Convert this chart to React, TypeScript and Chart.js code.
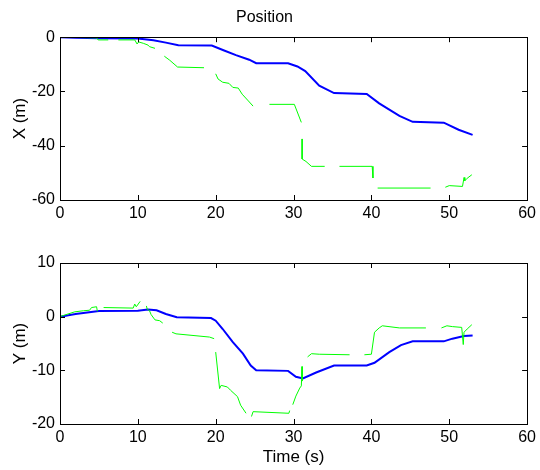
import { useEffect, useRef } from "react";
import { Chart, registerables } from "chart.js";

Chart.register(...registerables);

// ---- Data ----
const timeTicks = [0, 10, 20, 30, 40, 50, 60];
const xTicks = [-60, -40, -20, 0];
const yTicks = [-20, -10, 0, 10];

// Blue (X, top)
const blueXTime = [0, 2, 5, 10, 12, 13.6, 15.2, 19.5, 21, 22.6, 24.3, 25.2, 29.3, 30.5, 31.5, 33.3, 35.2, 39.4, 41, 43.6, 45.3, 49.3, 51.2, 53];
const blueXValue = [0, -0.2, -0.4, -0.5, -1.1, -2, -3, -3.1, -4.8, -6.6, -8.3, -9.6, -9.6, -10.8, -12.5, -17.9, -20.6, -20.9, -24.4, -29, -31.2, -31.5, -34.1, -36];

// Green (X, top) — null marks a gap
const greenXTime = [0, 2, 4.7, 4.9, 6.2, 6.8, 7.5, 9.6, 9.9, 10.1, 10.7, 11.3, 11.5, 12.2, 12.8, 13.4, 14.1, 15.1, 18.5, 19.2, 20.0, 20.3, 20.9, 21.7, 22.2, 22.9, 23.4, 24.2, 24.8, 25.8, 26.9, 30.1, 31.0, 31.05, 31.1, 31.1, 31.6, 32.3, 34, 35, 35.9, 40.1, 40.2, 40.5, 40.8, 47.6, 48.5, 49.5, 50, 51.7, 51.9, 52.0, 52.3, 52.9];
const greenXValue = [0, -0.1, -0.25, -1, -1, null, -1, -1, -2.5, -1.75, -2.25, -2.9, -3.5, -4.1, null, -7, -8.5, -11, -11.25, null, -13.5, -15.4, -16.6, -17, -18.5, -18.75, -21, -23.5, -25.4, null, -24.75, -24.75, -31.4, null, -37.5, -44.9, -45.8, -47.6, -47.6, null, -47.6, -47.6, -51.9, null, -55.6, -55.6, null, -55.3, -54.7, -55, -51.7, -52.9, -52, -50.7];

// Blue (Y, bottom)
const blueYTime = [0, 2, 5, 10, 11.3, 12.4, 13.6, 15, 19.4, 20, 20.9, 22.2, 23.5, 24.5, 25.2, 29.3, 30.3, 31.2, 32.9, 35.2, 39.4, 40.4, 42.3, 43.8, 45.3, 49.3, 50.4, 51.9, 53];
const blueYValue = [0, 0.5, 1.05, 1.1, 1.35, 1.2, 0.5, -0.1, -0.25, -0.75, -2.3, -4.75, -6.9, -9.1, -10, -10.1, -11.2, -11.5, -10.4, -9.1, -9.1, -8.6, -6.6, -5.3, -4.6, -4.6, -4.1, -3.6, -3.5];

// Green (Y, bottom) — null marks a gap
const greenYTime = [0, 0.6, 1.9, 3, 3.8, 4.05, 4.7, 4.8, 5.2, 5.6, 9.4, 9.6, 9.8, 10.3, 10.7, 11.1, 11.2, 11.5, 11.7, 12.2, 12.8, 13.2, 13.8, 14.4, 14.9, 19.2, 19.8, 19.9, 20.0, 20.5, 20.7, 21.5, 21.9, 22.8, 23.2, 23.9, 24.2, 24.6, 24.8, 29.4, 29.5, 29.7, 29.9, 30.3, 30.8, 31.0, 31.1, 31.1, 31.5, 31.8, 32.3, 33.3, 37.2, 38.2, 39.1, 40, 40.4, 41, 41.4, 43.6, 47, 48, 49, 49.7, 50.4, 51.6, 51.8, 51.9, 52.3, 52.9];
const greenYValue = [0, 0.3, 0.9, 1.1, 1.2, 1.7, 1.85, 1.0, null, 1.7, 1.6, 2.35, 1.85, 2.85, null, 2.0, 1.4, 1.1, 0.4, -0.6, -0.75, -1.2, null, -2.9, -3.2, -3.8, -4.1, null, -6.6, -13.4, -12.8, -13.1, -13.7, -14.9, -16.5, -18, null, -18.6, -17.7, -18, -17.5, null, -16.4, -14.8, -13.3, -12.9, -9.3, -12, null, -7.5, -6.9, -7, -7.1, null, -7.1, -7, -2.9, -2.1, -1.7, -2.1, -2.1, null, -2.1, -1.7, -1.85, -2, -5.2, -2.9, -2.3, -1.5];

const FONT = "'Liberation Sans', Arial, sans-serif";

const zip = (t: number[], v: (number | null)[]) => t.map((x, i) => ({ x, y: v[i] }));

const boxPlugin = {
  id: "matlabBox",
  afterDraw(chart: any) {
    const { ctx, chartArea: a, scales } = chart;
    ctx.save();
    ctx.strokeStyle = "#000";
    ctx.lineWidth = 1;
    ctx.strokeRect(Math.round(a.left) + 0.5, Math.round(a.top) + 0.5, Math.round(a.right - a.left), Math.round(a.bottom - a.top));
    const len = 5;
    ctx.beginPath();
    scales.x.ticks.forEach((t: any) => {
      const px = Math.round(scales.x.getPixelForValue(t.value)) + 0.5;
      ctx.moveTo(px, a.bottom);
      ctx.lineTo(px, a.bottom - len);
      ctx.moveTo(px, a.top);
      ctx.lineTo(px, a.top + len);
    });
    scales.y.ticks.forEach((t: any) => {
      const py = Math.round(scales.y.getPixelForValue(t.value)) + 0.5;
      ctx.moveTo(a.left, py);
      ctx.lineTo(a.left + len, py);
      ctx.moveTo(a.right, py);
      ctx.lineTo(a.right - len, py);
    });
    ctx.stroke();
    ctx.restore();
  },
};

function makeConfig(opts: {
  blue: { x: number; y: number | null }[];
  green: { x: number; y: number | null }[];
  yMin: number;
  yMax: number;
  yStep: number;
  yLabel: string;
  title?: string;
  xTitle?: string;
  padTop: number;
  xHeight: number;
}) {
  const tickFont = { family: FONT, size: 16 };
  return {
    type: "line" as const,
    data: {
      datasets: [
        {
          data: opts.green,
          borderColor: "#00ff00",
          borderWidth: 1,
          pointRadius: 0,
          spanGaps: false,
          tension: 0,
        },
        {
          data: opts.blue,
          borderColor: "#0000ff",
          borderWidth: 2,
          pointRadius: 0,
          tension: 0,
        },
      ],
    },
    options: {
      animation: false as const,
      responsive: false,
      devicePixelRatio: 1,
      layout: { padding: { left: 0, right: 11, top: opts.padTop, bottom: 0 } },
      plugins: {
        legend: { display: false },
        tooltip: { enabled: false },
        title: {
          display: !!opts.title,
          text: opts.title || "",
          color: "#000",
          font: { family: FONT, size: 16, weight: "normal" as const },
          padding: { top: 8, bottom: 10 },
        },
      },
      scales: {
        x: {
          type: "linear" as const,
          min: 0,
          max: 60,
          afterBuildTicks: (s: any) => {
            s.ticks = timeTicks.map((v) => ({ value: v }));
          },
          ticks: { color: "#000", font: tickFont, padding: 4, maxRotation: 0, autoSkip: false },
          grid: { display: false, drawTicks: false },
          border: { display: false },
          title: {
            display: !!opts.xTitle,
            text: opts.xTitle || "",
            color: "#000",
            font: { family: FONT, size: 17 },
            padding: { top: 0, bottom: 2 },
          },
          afterFit: (s: any) => {
            s.height = opts.xHeight;
          },
        },
        y: {
          type: "linear" as const,
          min: opts.yMin,
          max: opts.yMax,
          ticks: { color: "#000", font: tickFont, padding: 5, stepSize: opts.yStep },
          grid: { display: false, drawTicks: false },
          border: { display: false },
          title: {
            display: true,
            text: opts.yLabel,
            color: "#000",
            font: { family: FONT, size: 17 },
            padding: { top: 10, bottom: 0 },
          },
          afterFit: (s: any) => {
            s.width = 60;
          },
        },
      },
    },
    plugins: [boxPlugin],
  };
}

export default function App() {
  const topRef = useRef<HTMLCanvasElement>(null);
  const botRef = useRef<HTMLCanvasElement>(null);

  useEffect(() => {
    const top = new Chart(
      topRef.current as HTMLCanvasElement,
      makeConfig({
        blue: zip(blueXTime, blueXValue),
        green: zip(greenXTime, greenXValue),
        yMin: xTicks[0],
        yMax: xTicks[xTicks.length - 1],
        yStep: 20,
        yLabel: "X (m)",
        title: "Position",
        padTop: 0,
        xHeight: 30,
      }) as any
    );
    const bot = new Chart(
      botRef.current as HTMLCanvasElement,
      makeConfig({
        blue: zip(blueYTime, blueYValue),
        green: zip(greenYTime, greenYValue),
        yMin: yTicks[0],
        yMax: yTicks[yTicks.length - 1],
        yStep: 10,
        yLabel: "Y (m)",
        xTitle: "Time (s)",
        padTop: 33,
        xHeight: 46,
      }) as any
    );
    return () => {
      top.destroy();
      bot.destroy();
    };
  }, []);

  return (
    <div style={{ position: "absolute", left: 0, top: 0, width: 540, height: 470, background: "#fff" }}>
      <canvas ref={topRef} width={540} height={230} style={{ position: "absolute", left: 0, top: 0, display: "block" }} />
      <canvas ref={botRef} width={540} height={240} style={{ position: "absolute", left: 0, top: 230, display: "block" }} />
    </div>
  );
}
